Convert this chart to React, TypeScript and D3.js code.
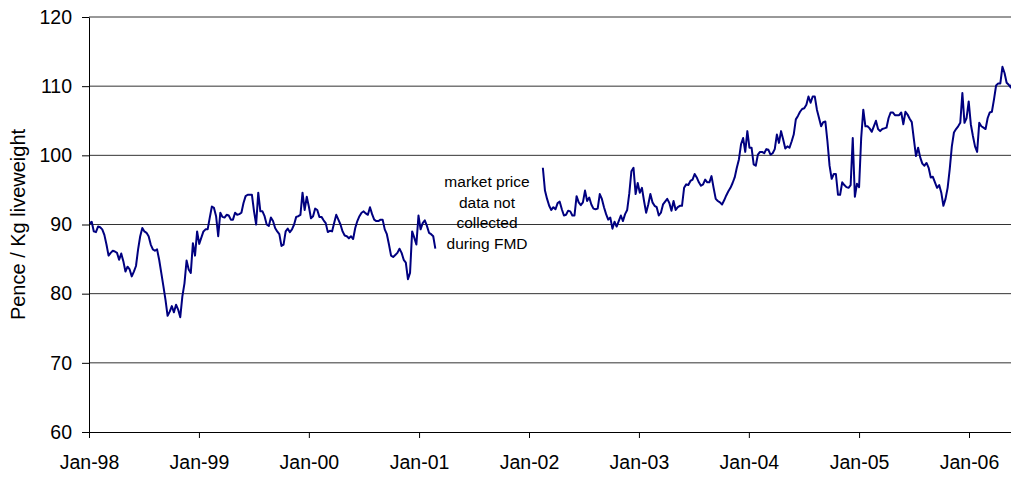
import * as d3 from "d3";
import { useEffect, useRef } from "react";

// weekly prices, pence / kg liveweight
const startBeforeFMD = new Date(1998, 0, 3);
const pricesBeforeFMD = [
  90.2, 90.4, 89.0, 88.9, 89.7, 89.6, 89.3, 88.5, 87.1, 85.5,
  85.9, 86.2, 86.1, 85.9, 84.9, 85.8, 84.7, 83.2, 83.9, 83.5,
  82.5, 83.2, 84.0, 86.4, 88.3, 89.5, 89.0, 88.8, 88.3, 87.1,
  86.4, 86.2, 86.4, 84.9, 83.0, 81.1, 79.1, 76.8, 77.4, 78.2,
  77.3, 78.4, 77.7, 76.6, 79.6, 81.5, 84.8, 83.5, 83.0, 87.3,
  85.5, 89.0, 87.2, 88.1, 89.0, 89.3, 89.3, 91.0, 92.6, 92.4,
  91.2, 88.3, 91.7, 91.1, 91.0, 91.4, 91.3, 90.7, 90.7, 91.7,
  91.4, 91.5, 91.7, 93.1, 94.1, 94.3, 94.3, 94.3, 91.9, 90.0,
  94.6, 91.9, 91.9, 91.2, 90.0, 89.8, 91.0, 90.5, 89.5, 89.0,
  88.6, 86.9, 87.1, 89.0, 89.4, 88.9, 89.3, 90.0, 91.1, 91.2,
  91.4, 94.6, 92.1, 94.0, 92.6, 90.9, 91.2, 92.3, 92.1, 91.1,
  91.1, 90.6, 90.2, 88.9, 89.1, 89.0, 90.2, 91.4, 90.7, 90.0,
  89.0, 88.4, 88.3, 88.0, 88.3, 87.9, 89.5, 90.5, 91.2, 91.7,
  91.9, 91.6, 91.4, 92.5, 91.5, 90.7, 90.5, 90.5, 90.7, 90.7,
  89.3, 88.6, 87.1, 85.5, 85.3, 85.6, 85.9, 86.5, 85.9, 84.9,
  84.5, 82.1, 83.0, 89.0, 88.1, 87.1, 91.3, 89.3, 90.2, 90.6,
  89.8, 88.8, 88.6, 88.3, 86.5,
];

const startAfterFMD = new Date(2002, 1, 16);
const pricesAfterFMD = [
  98.2, 94.9, 93.7, 92.7, 92.1, 92.5, 92.2, 93.1, 93.3, 92.2,
  91.3, 91.4, 92.0, 91.9, 91.3, 91.3, 94.1, 93.2, 92.8, 93.2,
  94.9, 93.4, 93.9, 92.9, 92.3, 92.2, 92.3, 94.4, 93.7, 92.5,
  91.5, 90.7, 91.0, 89.4, 90.4, 89.7, 90.5, 91.3, 90.5, 91.5,
  92.1, 94.5, 97.7, 98.2, 94.4, 96.0, 94.6, 95.3, 93.4, 91.7,
  92.9, 94.4, 93.2, 92.7, 92.5, 91.3, 91.7, 92.9, 93.3, 93.7,
  93.1, 92.0, 93.4, 92.1, 92.5, 92.7, 92.7, 95.3, 95.8, 95.7,
  96.3, 96.5, 97.3, 96.8, 96.1, 95.6, 95.8, 96.5, 96.1, 96.1,
  97.0, 95.3, 93.7, 93.4, 93.2, 92.9, 93.5, 94.2, 94.8, 95.3,
  96.0, 96.8, 98.2, 99.4, 101.6, 102.5, 100.5, 103.5, 101.1, 101.1,
  98.7, 98.5, 100.1, 100.5, 100.5, 100.3, 100.9, 100.8, 100.1, 100.3,
  100.9, 103.0, 101.8, 103.5, 102.3, 101.0, 101.3, 101.1, 102.0, 103.0,
  105.2, 105.7, 106.3, 106.7, 106.8, 107.3, 108.5, 107.6, 108.5, 108.5,
  106.6, 105.4, 104.2, 104.8, 104.9, 102.0, 98.5, 96.6, 97.3, 97.3,
  94.3, 94.3, 96.1, 95.7, 95.4, 95.3, 95.7, 102.5, 94.0, 95.9,
  95.4, 102.5, 106.6, 104.2, 104.2, 103.9, 103.4, 104.2, 105.0, 103.8,
  103.5, 103.8, 103.9, 104.0, 105.4, 106.2, 106.2, 105.8, 105.8, 105.8,
  106.2, 104.5, 106.3, 105.9, 105.3, 104.8, 102.3, 99.9, 101.1, 99.7,
  98.8, 98.5, 98.9, 98.2, 96.8, 96.9, 96.1, 95.3, 95.7, 94.6,
  92.7, 93.7, 95.3, 98.0, 101.3, 103.3, 103.8, 104.2, 104.7, 109.0,
  104.7, 105.4, 107.8, 104.5, 102.8, 101.3, 100.5, 104.7, 104.2, 104.0,
  103.8, 105.4, 106.2, 106.3, 108.1, 110.1, 110.4, 110.4, 112.8, 111.9,
  110.5, 110.2, 109.8, 110.9,
];

const yTicks = [60, 70, 80, 90, 100, 110, 120];
const noteLines = ["market price", "data not", "collected", "during FMD"];

type Pt = { date: Date; value: number };

const toWeekly = (start: Date, values: number[]): Pt[] =>
  values.map((v, i) => ({
    date: new Date(start.getFullYear(), start.getMonth(), start.getDate() + i * 7),
    value: v,
  }));

const FONT = "'Liberation Sans', Arial, sans-serif";

const App = () => {
  const ref = useRef<SVGSVGElement | null>(null);

  useEffect(() => {
    const width = 1011,
      height = 477,
      left = 89,
      top = 17,
      bottom = 432;

    const svg = d3.select(ref.current);
    svg.selectAll("*").remove();

    // one year = 110 px, axis runs off the right edge
    const x = d3
      .scaleTime()
      .domain([new Date(1998, 0, 1), new Date(2006, 0, 1)])
      .range([left, 969]);
    x.domain([new Date(1998, 0, 1), x.invert(width)]).range([left, width]);

    const y = d3.scaleLinear().domain([60, 120]).range([bottom, top]);

    // gridlines
    svg
      .append("g")
      .selectAll("line")
      .data(yTicks.filter((t) => t > 60))
      .enter()
      .append("line")
      .attr("x1", left)
      .attr("x2", width)
      .attr("y1", (d) => y(d))
      .attr("y2", (d) => y(d))
      .attr("stroke", "#333")
      .attr("stroke-width", 1);

    const years = d3.timeYear.range(new Date(1998, 0, 1), new Date(2006, 6, 1));

    const xAxis = svg
      .append("g")
      .attr("transform", `translate(0,${bottom})`)
      .call(
        d3
          .axisBottom(x)
          .tickValues(years)
          .tickFormat(d3.timeFormat("%b-%y") as any)
          .tickSize(6)
          .tickSizeOuter(0)
          .tickPadding(17)
      );
    xAxis.selectAll("text").attr("font-size", 19.5).attr("font-family", FONT).attr("fill", "#000");
    xAxis.selectAll("path,line").attr("stroke", "#000");

    const yAxis = svg
      .append("g")
      .attr("transform", `translate(${left},0)`)
      .call(d3.axisLeft(y).tickValues(yTicks).tickSize(7).tickSizeOuter(0).tickPadding(10));
    yAxis.selectAll("text").attr("font-size", 19.5).attr("font-family", FONT).attr("fill", "#000");
    yAxis.selectAll("path,line").attr("stroke", "#000");

    svg
      .append("text")
      .attr("transform", `translate(25,${(top + bottom) / 2}) rotate(-90)`)
      .attr("text-anchor", "middle")
      .attr("font-family", FONT)
      .attr("font-size", 20)
      .text("Pence / Kg liveweight");

    const line = d3
      .line<Pt>()
      .x((d) => x(d.date))
      .y((d) => y(d.value));

    const segments = [
      toWeekly(startBeforeFMD, pricesBeforeFMD),
      toWeekly(startAfterFMD, pricesAfterFMD),
    ];

    svg
      .append("g")
      .selectAll("path")
      .data(segments)
      .enter()
      .append("path")
      .attr("d", (d) => line(d))
      .attr("fill", "none")
      .attr("stroke", "#000080")
      .attr("stroke-width", 2)
      .attr("stroke-linejoin", "round");

    svg
      .append("text")
      .attr("font-family", FONT)
      .attr("font-size", 15.5)
      .attr("text-anchor", "middle")
      .selectAll("tspan")
      .data(noteLines)
      .enter()
      .append("tspan")
      .attr("x", 487)
      .attr("y", (d, i) => 187 + i * 20.7)
      .text((d) => d);
  }, []);

  return (
    <svg
      ref={ref}
      width={1011}
      height={477}
      style={{ position: "absolute", left: 0, top: 0, background: "#fff" }}
    />
  );
};

export default App;
